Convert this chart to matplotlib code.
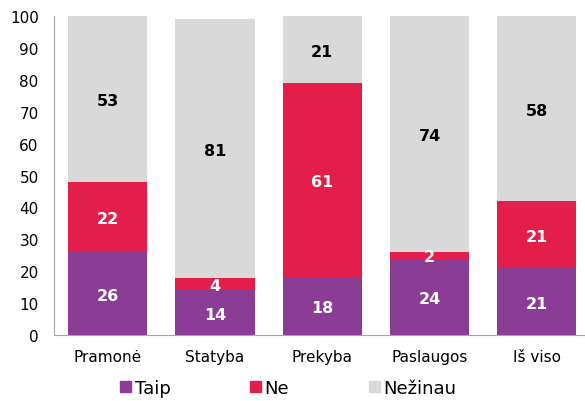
import matplotlib
matplotlib.use("Agg")
import matplotlib.pyplot as plt
import numpy as np
from matplotlib.patches import Patch

categories = ["Pramonė", "Statyba", "Prekyba", "Paslaugos", "Iš viso"]
taip = [26, 14, 18, 24, 21]
ne = [22, 4, 61, 2, 21]
nezinau = [53, 81, 21, 74, 58]
series_names = ["Taip", "Ne", "Nežinau"]
colors = ["#8B3D96", "#E31E4A", "#D9D9D9"]
text_colors = ["white", "white", "black"]

plt.rcParams['font.family'] = ['DejaVu Sans']
fig = plt.figure(figsize=(5.85, 4.02), dpi=100)
ax = fig.add_axes([0.0923, 0.164, 0.917, 0.7935])

x = np.arange(len(categories))
bottom = np.zeros(len(categories))
for vals, c, tc in zip([taip, ne, nezinau], colors, text_colors):
    v = np.array(vals, dtype=float)
    ax.bar(x, v, 0.74, bottom=bottom, color=c, edgecolor="none")
    for xi, b, h in zip(x, bottom, v):
        top = min(b + h, 100)
        ax.text(xi, (b + top) / 2 - 0.5, str(int(h)), ha="center", va="center",
                color=tc, fontsize=11.5, fontweight="bold")
    bottom += v

ax.set_xlim(-0.5, 4.5)
ax.set_ylim(0, 100)
ax.set_yticks(range(0, 101, 10))
ax.set_xticks(x)
ax.set_xticklabels(categories, fontsize=11)
ax.tick_params(axis="y", labelsize=11, length=0, pad=11)
ax.tick_params(axis="x", length=0, pad=10)
for s in ["top", "right"]:
    ax.spines[s].set_visible(False)
for s in ["left", "bottom"]:
    ax.spines[s].set_color("#A6A6A6")

handles = [Patch(color=c) for c in colors]
fig.legend(handles, series_names, loc="lower left", bbox_to_anchor=(0.177, -0.03),
           ncol=3, frameon=False, fontsize=13, handlelength=0.6, handleheight=0.6,
           handletextpad=0.22, columnspacing=4.4)

fig.savefig("out.png", dpi=100)
